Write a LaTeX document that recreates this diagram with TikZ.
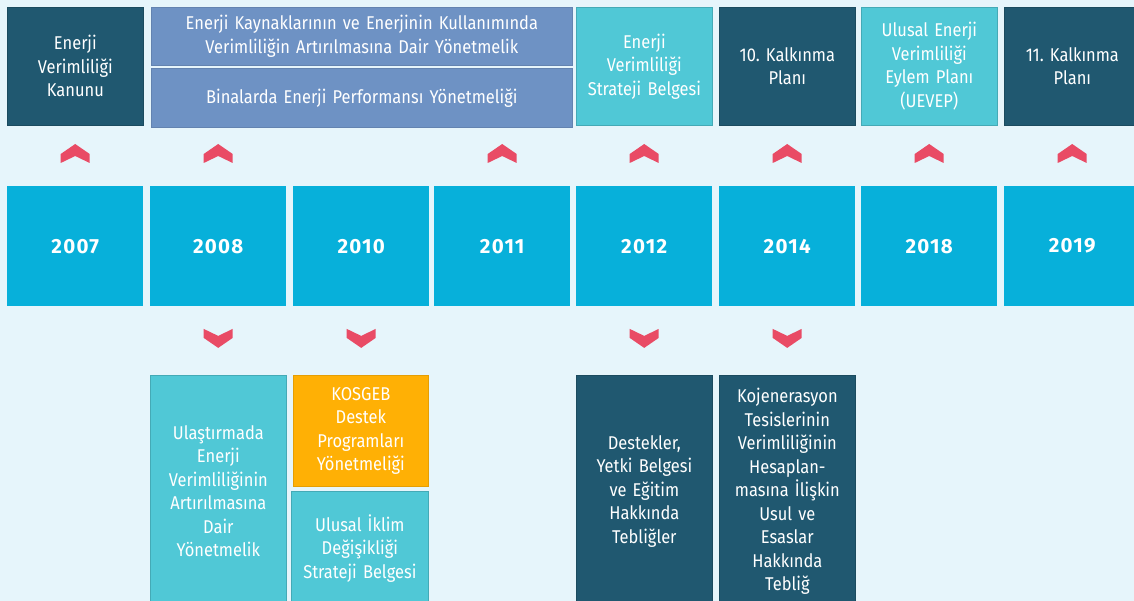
\documentclass[tikz,border=0pt]{standalone}
\usepackage{fontspec}
\setmainfont[FakeStretch=0.89]{Fira Sans}
\newfontfamily\yearfont[LetterSpace=6]{Fira Sans}
\definecolor{bgc}{HTML}{E6F5FB}
\definecolor{darkc}{HTML}{205870}
\definecolor{slatec}{HTML}{6E92C4}
\definecolor{aquac}{HTML}{50C8D6}
\definecolor{yearc}{HTML}{07B0DA}
\definecolor{orangec}{HTML}{FFB005}
\definecolor{chevc}{HTML}{E94B65}
\frenchspacing
\begin{document}
\begin{tikzpicture}[x=1pt,y=-1pt,
  box/.style={anchor=north west, inner sep=0pt, align=center, text=white,
    minimum width=136pt, text width=132pt,
    font=\fontsize{18.5}{23.5}\selectfont, line width=0.7pt},
  darkbox/.style={box, fill=darkc, draw=darkc!85!black},
  slatebox/.style={box, fill=slatec, draw=slatec!90!black},
  aquabox/.style={box, fill=aquac, draw=aquac!85!black},
  orangebox/.style={box, fill=orangec, draw=orangec!90!black},
  yearbox/.style={anchor=north west, inner sep=0pt, fill=yearc, text=white,
    minimum width=136pt, minimum height=120pt,
    font=\yearfont\bfseries\fontsize{20.5}{24}\selectfont},
  chevup/.pic={\fill[chevc] (0,-9.5) -- (14.5,0.5) -- (14.5,9.5) -- (0,2.5)
      -- (-14.5,9.5) -- (-14.5,0.5) -- cycle;},
  chevdown/.pic={\fill[chevc] (0,9.5) -- (14.5,-0.5) -- (14.5,-9.5) -- (0,-2.5)
      -- (-14.5,-9.5) -- (-14.5,-0.5) -- cycle;}
]
\useasboundingbox (0,0) rectangle (1134,601);
\clip (0,0) rectangle (1134,601);
\fill[bgc] (0,0) rectangle (1134,601);

% year row
\node[yearbox] (y2007) at (7,186) {2007};
\node[yearbox] (y2008) at (150,186) {2008};
\node[yearbox] (y2010) at (293,186) {2010};
\node[yearbox] (y2011) at (434,186) {2011};
\node[yearbox] (y2012) at (576,186) {2012};
\node[yearbox] (y2014) at (719,186) {2014};
\node[yearbox] (y2018) at (861,186) {2018};
\node[yearbox] (y2019) at (1004,186) {2019};

% documents above the timeline
\node[darkbox, minimum height=118pt] (t1) at (7,7) {Enerji\\Verimliliği\\Kanunu};
\node[slatebox, minimum width=421pt, text width=410pt, minimum height=58pt] (t2) at (151,7)
  {Enerji Kaynaklarının ve Enerjinin Kullanımında\\Verimliliğin Artırılmasına Dair Yönetmelik};
\node[slatebox, minimum width=421pt, text width=410pt, minimum height=59pt] (t3) at (151,68)
  {Binalarda Enerji Performansı Yönetmeliği};
\node[aquabox, minimum height=118pt] (t4) at (576,7) {Enerji\\Verimliliği\\Strateji Belgesi};
\node[darkbox, minimum height=118pt] (t5) at (719,7) {10. Kalkınma\\Planı};
\node[aquabox, minimum height=118pt] (t6) at (861,7) {Ulusal Enerji\\Verimliliği\\Eylem Planı\\(UEVEP)};
\node[darkbox, minimum height=118pt] (t7) at (1004,7) {11. Kalkınma\\Planı};

% documents below the timeline
\node[aquabox, minimum height=232pt] (b1) at (150,375)
  {Ulaştırmada\\Enerji\\Verimliliğinin\\Artırılmasına\\Dair\\Yönetmelik};
\node[orangebox, minimum width=135pt, minimum height=111pt] (b2) at (293,375)
  {KOSGEB\\Destek\\Programları\\Yönetmeliği};
\node[aquabox, minimum width=137pt, minimum height=114pt] (b3) at (291,491)
  {Ulusal İklim\\Değişikliği\\Strateji Belgesi};
\node[darkbox, minimum height=232pt] (b4) at (576,375)
  {Destekler,\\Yetki Belgesi\\ve Eğitim\\Hakkında\\Tebliğler};
\node[darkbox, minimum height=232pt] (b5) at (719,375)
  {Kojenerasyon\\Tesislerinin\\Verimliliğinin\\Hesaplan-\\masına İlişkin\\Usul ve\\Esaslar\\Hakkında\\Tebliğ};

% chevrons linking years to documents
\foreach \y in {y2007,y2008,y2011,y2012,y2014,y2018,y2019}
  \pic at ([yshift=32.5pt]\y.north) {chevup};
\foreach \y in {y2008,y2010,y2012,y2014}
  \pic at ([yshift=-32pt]\y.south) {chevdown};
\end{tikzpicture}
\end{document}
